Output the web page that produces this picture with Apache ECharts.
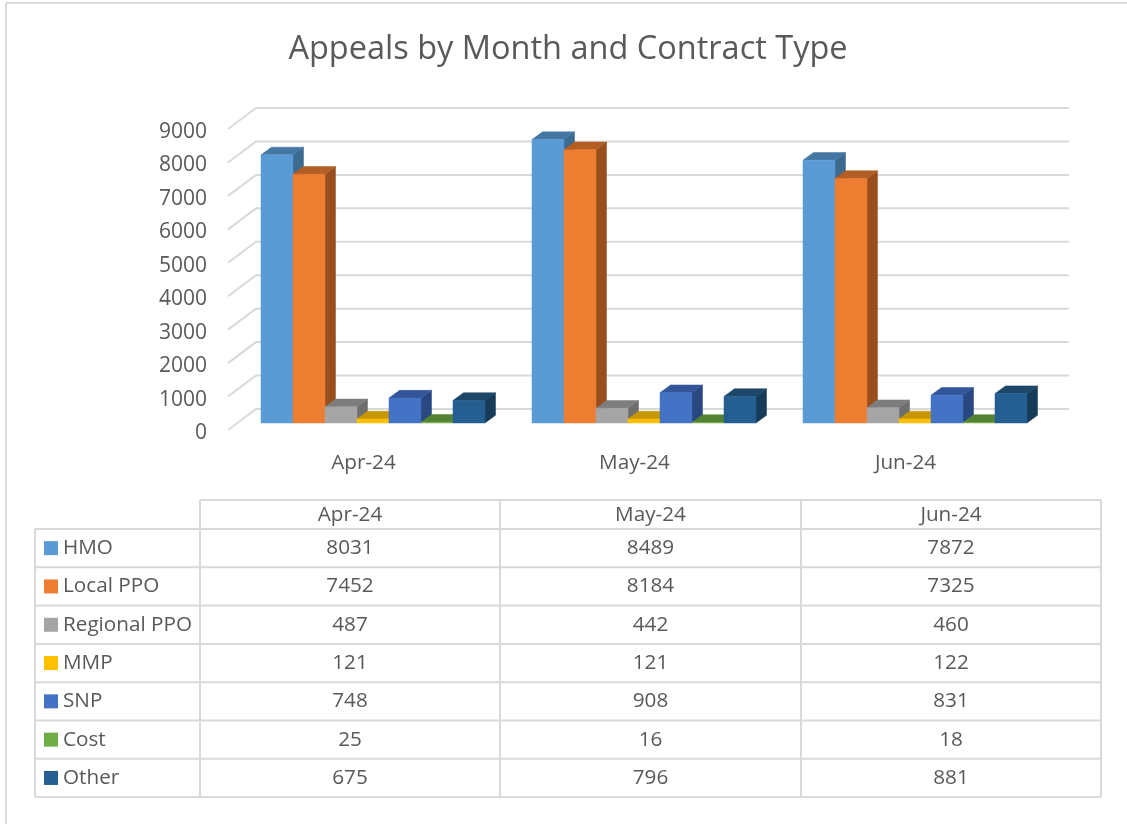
<!DOCTYPE html>
<html>
<head>
<meta charset="utf-8" />
<title>Appeals by Month and Contract Type</title>
<script src="https://cdn.jsdelivr.net/npm/echarts@6/dist/echarts.min.js"></script>
<style>
    html, body { margin: 0; padding: 0; background: #fff; }
    #chart { width: 1127px; height: 824px; }
</style>
</head>
<body>
<div id="chart"></div>
<script>
const months = ["Apr-24", "May-24", "Jun-24"];
const yTicks = [0, 1000, 2000, 3000, 4000, 5000, 6000, 7000, 8000, 9000];

const seriesNames = ["HMO", "Local PPO", "Regional PPO", "MMP", "SNP", "Cost", "Other"];
const hmo = [8031, 8489, 7872];
const localPpo = [7452, 8184, 7325];
const regionalPpo = [487, 442, 460];
const mmp = [121, 121, 122];
const snp = [748, 908, 831];
const cost = [25, 16, 18];
const other = [675, 796, 881];
const seriesValues = [hmo, localPpo, regionalPpo, mmp, snp, cost, other];

// front, top and side face of each bar
const frontColors = ["#5b9bd5", "#ed7d31", "#a5a5a5", "#ffc000", "#4472c4", "#70ad47", "#255e91"];
const topColors = ["#4476a3", "#b35e24", "#7d7d7d", "#c79600", "#33569a", "#548235", "#1c4768"];
const sideColors = ["#3d6a91", "#984f1d", "#6e6e6e", "#a67c00", "#294780", "#466d2c", "#173c59"];

const FONT = '"Open Sans", sans-serif';
const TEXT = "#595959";
const LINE = "#d9d9d9";

const BAR_WIDTH = 32;
const DEPTH_X = 10.5;
const DEPTH_Y = 7.7;

function renderBar(params, api) {
    const s = params.seriesIndex - 1;
    const base = api.coord([api.value(0), 0]);
    const top = api.coord([api.value(0), api.value(1)]);
    const x0 = base[0] + (s - seriesNames.length / 2) * BAR_WIDTH;
    const x1 = x0 + BAR_WIDTH;
    const y0 = base[1];
    const y1 = top[1];
    const poly = (points, fill) => ({
        type: "polygon",
        shape: { points: points },
        style: { fill: fill, stroke: fill, lineWidth: 0.5 },
    });
    return {
        type: "group",
        children: [
            poly([[x1, y0], [x1 + DEPTH_X, y0 - DEPTH_Y], [x1 + DEPTH_X, y1 - DEPTH_Y], [x1, y1]], sideColors[s]),
            poly([[x0, y1], [x0 + DEPTH_X, y1 - DEPTH_Y], [x1 + DEPTH_X, y1 - DEPTH_Y], [x1, y1]], topColors[s]),
            poly([[x0, y0], [x1, y0], [x1, y1], [x0, y1]], frontColors[s]),
        ],
    };
}

// back wall lines with the short diagonal on the left
// grid 0 sits 3px low so the tick labels line up, hence the -3
function renderWall(params, api) {
    const y = api.coord([0, api.value(0)])[1] - 3;
    const left = params.coordSys.x;
    const right = left + params.coordSys.width;
    return {
        type: "polyline",
        shape: { points: [[left, y], [left + 28, y - 21], [right + 28, y - 21]] },
        style: { fill: null, stroke: LINE, lineWidth: 2 },
    };
}

function tableGraphics() {
    const colX = [200, 500, 801, 1101];
    const left = 35;
    const top = 500;
    const headBottom = 529;
    const rowH = 38.3;
    const bottom = headBottom + rowH * seriesNames.length;
    const items = [];
    const line = (x1, y1, x2, y2) => items.push({
        type: "line",
        shape: { x1: x1, y1: y1, x2: x2, y2: y2 },
        style: { stroke: LINE, lineWidth: 2 },
    });
    const label = (x, y, text, align) => items.push({
        type: "text",
        x: x,
        y: y,
        style: { text: text, fill: TEXT, font: "20.7px " + FONT, align: align, verticalAlign: "middle" },
    });

    line(colX[0], top, colX[3], top);
    line(left, headBottom, colX[3], headBottom);
    for (let r = 1; r <= seriesNames.length; r++) {
        line(left, headBottom + rowH * r, colX[3], headBottom + rowH * r);
    }
    line(left, headBottom, left, bottom);
    line(colX[0], top, colX[0], bottom);
    line(colX[1], top, colX[1], bottom);
    line(colX[2], top, colX[2], bottom);
    line(colX[3], top, colX[3], bottom);

    months.forEach((m, c) => label((colX[c] + colX[c + 1]) / 2, (top + headBottom) / 2 + 1, m, "center"));
    seriesNames.forEach((name, r) => {
        const cy = headBottom + rowH * (r + 0.5);
        items.push({
            type: "rect",
            shape: { x: 44, y: cy - 7, width: 14, height: 14 },
            style: { fill: frontColors[r] },
        });
        label(63, cy, name, "left");
        seriesValues[r].forEach((v, c) => label((colX[c] + colX[c + 1]) / 2, cy, String(v), "center"));
    });

    // outer frame of the screenshot, open on the right
    line(6, 3, 1127, 3);
    line(6, 3, 6, 824);
    return items;
}

const barSeries = seriesNames.map((name, s) => ({
    type: "custom",
    name: name,
    xAxisIndex: 1,
    yAxisIndex: 1,
    renderItem: renderBar,
    clip: false,
    encode: { x: 0, y: 1 },
    data: seriesValues[s].map((v, i) => [i, v]),
}));

const myChart = echarts.init(document.getElementById("chart"), null, { renderer: "canvas" });
myChart.setOption({
    animation: false,
    backgroundColor: "#fff",
    title: {
        text: "Appeals by Month and Contract Type",
        left: 563,
        top: 28,
        textAlign: "center",
        textStyle: { color: TEXT, fontFamily: FONT, fontSize: 32.5, fontWeight: "normal" },
    },
    // grid 0 holds the labels on the front edge, grid 1 the plane the bars stand on
    grid: [
        { left: 228, top: 132, width: 813, height: 301 },
        { left: 237.5, top: 122.5, width: 813, height: 300.5 },
    ],
    xAxis: [
        {
            gridIndex: 0,
            type: "category",
            data: months,
            axisLine: { show: false },
            axisTick: { show: false },
            axisLabel: { color: TEXT, fontFamily: FONT, fontSize: 20.7, margin: 20 },
        },
        { gridIndex: 1, type: "category", data: months, show: false },
    ],
    yAxis: [
        {
            gridIndex: 0,
            type: "value",
            min: 0,
            max: 9000,
            interval: 1000,
            splitLine: { show: false },
            axisLine: { show: false },
            axisTick: { show: false },
            axisLabel: {
                color: TEXT,
                fontFamily: FONT,
                fontSize: 21,
                margin: 21,
                formatter: (v) => String(v),
            },
        },
        { gridIndex: 1, type: "value", min: 0, max: 9000, interval: 1000, show: false, splitLine: { show: false } },
    ],
    graphic: tableGraphics(),
    series: [
        {
            type: "custom",
            name: "wall",
            xAxisIndex: 0,
            yAxisIndex: 0,
            renderItem: renderWall,
            clip: false,
            encode: { y: 0 },
            data: yTicks.map((t) => [t]),
        },
    ].concat(barSeries),
});
</script>
</body>
</html>
